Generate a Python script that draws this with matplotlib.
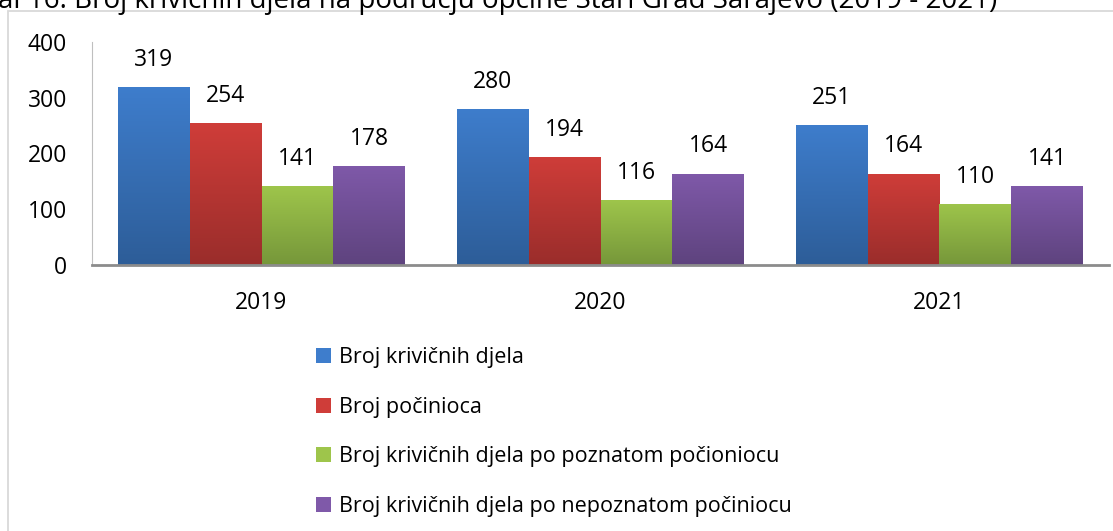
import matplotlib

matplotlib.use("Agg")
import matplotlib.pyplot as plt
import numpy as np
from matplotlib.colors import LinearSegmentedColormap
from matplotlib.patches import Patch, Rectangle

plt.rcParams["font.family"] = ["Open Sans", "DejaVu Sans"]

GODINE = ["2019", "2020", "2021"]
SERIJE = [
    "Broj krivičnih djela",
    "Broj počinioca",
    "Broj krivičnih djela po poznatom počioniocu",
    "Broj krivičnih djela po nepoznatom počiniocu",
]
VRIJEDNOSTI = [
    [319, 280, 251],
    [254, 194, 164],
    [141, 116, 110],
    [178, 164, 141],
]
# boja pri vrhu i pri dnu stupca (Excel gradijent)
BOJE = [
    ("#3e7dcc", "#2d5d98"),
    ("#cf3d39", "#9a2d2b"),
    ("#9ec54b", "#76973a"),
    ("#7f59a9", "#5e437e"),
]
NASLOV = "al 16. Broj krivičnih djela na području općine Stari Grad Sarajevo (2019 - 2021)"

SIRINA = 0.212
VEL = 16.5

fig = plt.figure(figsize=(11.13, 5.31), dpi=100)
ax = fig.add_axes([92 / 1113, 1 - 265 / 531, (1109 - 92) / 1113, (265 - 42) / 531])

# okvir grafikona
fig.patches.append(Rectangle((8 / 1113, -0.1), 1.2, 1 - 11 / 531 + 0.1, transform=fig.transFigure,
                             fill=False, edgecolor="#d9d9d9", linewidth=1.3))

x = np.arange(len(GODINE))
for i, (vals, (vrh, dno)) in enumerate(zip(VRIJEDNOSTI, BOJE)):
    pomak = (i - 1.5) * SIRINA
    stupci = ax.bar(x + pomak, vals, SIRINA, color=vrh, linewidth=0)
    cmap = LinearSegmentedColormap.from_list(f"g{i}", [dno, vrh])
    grad = np.linspace(0, 1, 256).reshape(-1, 1)
    for s, v in zip(stupci, vals):
        x0 = s.get_x()
        im = ax.imshow(grad, cmap=cmap, origin="lower", aspect="auto",
                       extent=(x0, x0 + SIRINA, 0, v), zorder=2)
        im.set_clip_path(s)
        ax.annotate(str(v), (x0 + SIRINA / 2, v), xytext=(0, 19.5), textcoords="offset points",
                    ha="center", va="center", fontsize=VEL)

ax.set_xlim(-0.5, 2.5)
ax.set_ylim(0, 400)
ax.set_yticks([0, 100, 200, 300, 400])
ax.set_xticks(x, GODINE)
ax.tick_params(axis="both", length=0, labelsize=VEL)
ax.tick_params(axis="x", pad=19)
ax.tick_params(axis="y", pad=18)
for s in ["top", "right"]:
    ax.spines[s].set_visible(False)
ax.spines["left"].set_color("#bfbfbf")
ax.spines["bottom"].set_color("#8c8c8c")
ax.spines["bottom"].set_linewidth(2)

rucke = [Patch(facecolor=vrh, edgecolor="none") for vrh, dno in BOJE]
fig.legend(rucke, SERIJE, loc="upper left", bbox_to_anchor=(299 / 1113, 1 - 330 / 531),
           frameon=False, fontsize=15.5, handlelength=0.7, handleheight=0.7,
           handletextpad=0.37, labelspacing=1.33, borderpad=0.3)

# naslov je u izvoru odrezan pri vrhu
fig.text(-2 / 1113, 1 - 8 / 531, NASLOV, ha="left", va="baseline", fontsize=20)

fig.savefig("out.png", dpi=100)
